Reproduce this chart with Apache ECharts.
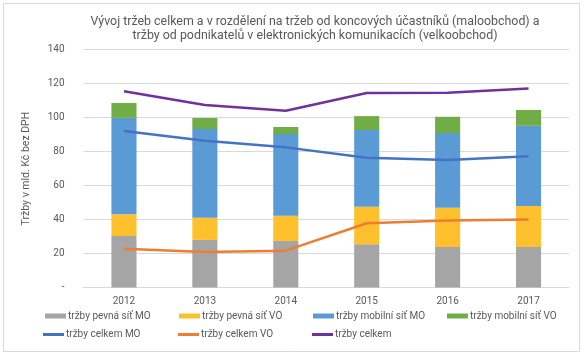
<!DOCTYPE html>
<html><head><meta charset="utf-8">
<script src="https://cdn.jsdelivr.net/npm/echarts@6/dist/echarts.min.js"></script>
<style>html,body{margin:0;padding:0;background:#fff}#c{width:584px;height:355px}</style>
</head><body><div id="c"></div>
<script>
const years = ['2012','2013','2014','2015','2016','2017'];
const pevnaMO = [30.3, 28.0, 27.4, 25.4, 23.8, 23.8];
const pevnaVO = [12.8, 13.1, 14.9, 22.2, 23.2, 24.2];
const mobilniMO = [56.8, 52.2, 48.0, 45.1, 43.9, 47.2];
const mobilniVO = [8.7, 6.5, 4.2, 8.2, 9.6, 9.3];
const celkemMO = [92.1, 86.4, 82.5, 76.4, 75.0, 77.2];
const celkemVO = [22.8, 20.9, 21.7, 37.8, 39.5, 40.1];
const celkem = [115.5, 107.4, 104.1, 114.5, 114.7, 117.2];
const yTicks = [0, 20, 40, 60, 80, 100, 120, 140];

const font = 'Roboto, sans-serif';
const txt = '#595959';
function bar(name, data, color){
  return {name, type:'bar', stack:'a', data, barWidth:'31%', itemStyle:{color}, emphasis:{disabled:true}};
}
function line(name, data, color){
  return {name, type:'line', data, symbol:'none', lineStyle:{color, width:2.5}, itemStyle:{color}, z:5, emphasis:{disabled:true}};
}
const legendPos = [
  ['tržby pevná síť MO', 45, 311, 5],
  ['tržby pevná síť VO', 179, 311, 5],
  ['tržby mobilní síť MO', 313, 311, 5],
  ['tržby mobilní síť VO', 447, 311, 5],
  ['tržby celkem MO', 43, 329.5, 3],
  ['tržby celkem VO', 178, 329.5, 3],
  ['tržby celkem', 312, 329.5, 3]
];
const chart = echarts.init(document.getElementById('c'));
chart.setOption({
  animation:false,
  textStyle:{fontFamily:font},
  graphic:[
    {type:'rect', shape:{x:3.5,y:3.5,width:576,height:348}, style:{fill:'none', stroke:'#D9D9D9', lineWidth:1}, silent:true},
    {type:'text', x:315, y:15, silent:true, style:{
      text:'Vývoj tržeb celkem a v rozdělení na tržeb od koncových účastníků (maloobchod) a\ntržby od podnikatelů v elektronických komunikacích (velkoobchod)',
      align:'center', verticalAlign:'top', font:'12.4px '+font, fill:txt, lineHeight:14}}
  ],
  legend: legendPos.map(([n,x,y,h])=>({data:[n], left:x, top:y, itemWidth:21, itemHeight:h, icon:'rect', padding:0, itemGap:0,
     textStyle:{fontSize:10, color:txt, padding:[0,0,0,-3]}})),
  grid:{left:83.5, right:15, top:49.7, bottom:67.5},
  xAxis:{type:'category', data:years,
    axisLine:{lineStyle:{color:'#D9D9D9'}}, axisTick:{show:false},
    axisLabel:{color:txt, fontSize:10, margin:9}},
  yAxis:{type:'value', min:yTicks[0], max:yTicks[yTicks.length-1], interval:20,
    name:'Tržby v mld. Kč bez DPH', nameLocation:'middle', nameGap:52, nameRotate:90,
    nameTextStyle:{color:txt, fontSize:10.5},
    axisLine:{show:false}, axisTick:{show:false},
    axisLabel:{color:txt, fontSize:10, margin:19, formatter:v=> v===0?'-':String(v)},
    splitLine:{lineStyle:{color:'#D9D9D9'}}},
  series:[
    bar('tržby pevná síť MO', pevnaMO, '#A5A5A5'),
    bar('tržby pevná síť VO', pevnaVO, '#FFC02E'),
    bar('tržby mobilní síť MO', mobilniMO, '#5B9BD5'),
    bar('tržby mobilní síť VO', mobilniVO, '#70AD47'),
    line('tržby celkem MO', celkemMO, '#4472C4'),
    line('tržby celkem VO', celkemVO, '#ED7D31'),
    line('tržby celkem', celkem, '#7030A0')
  ]
});
</script></body></html>
